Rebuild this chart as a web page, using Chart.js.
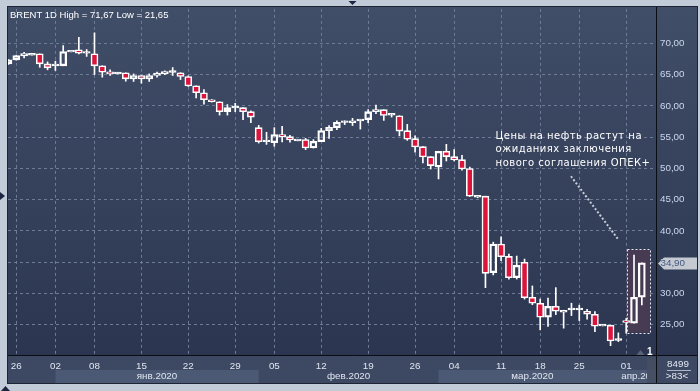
<!DOCTYPE html>
<html><head><meta charset="utf-8">
<script src="https://cdn.jsdelivr.net/npm/chart.js@4.4.1/dist/chart.umd.min.js"></script>
<style>html,body{margin:0;padding:0;background:#c2cbd8;overflow:hidden}canvas{display:block}</style>
</head><body>
<canvas id="c" width="700" height="391"></canvas>
<script>
// ---- data (BRENT daily, 83 visible slots; index = slot number) ----
const openV = [
 66.70,67.35,67.99,68.10,68.31,66.71,66.40,66.40,68.60,68.95,
 68.40,68.31,66.40,65.44,65.10,65.28,64.32,64.85,64.32,64.85,
 65.12,65.35,65.28,64.69,63.20,62.09,60.97,60.65,59.06,59.65,
 59.70,59.06,56.51,54.25,54.11,55.39,55.07,54.40,54.60,53.25,
 54.27,56.03,56.51,57.33,57.30,57.60,57.78,59.06,59.38,58.50,
 58.42,56.03,54.75,53.47,51.88,50.22,52.73,51.88,51.40,49.97,
 45.40,45.55,33.32,37.90,35.93,32.52,34.98,29.39,28.44,26.20,
 27.96,27.00,27.38,27.38,27.16,26.68,24.80,24.93,22.50,25.66,
 25.25,29.39];
const highV = [
 67.40,68.10,68.56,68.30,68.31,67.03,67.13,69.63,68.80,70.96,
 69.00,71.67,66.40,65.77,65.30,65.28,65.10,64.85,65.10,65.40,
 65.60,66.12,65.30,64.80,63.20,62.60,61.00,60.65,60.20,60.40,
 59.70,59.20,56.87,55.76,56.51,56.71,55.30,54.60,54.80,54.60,
 56.40,56.83,57.60,57.60,58.00,57.80,59.40,60.11,59.38,58.80,
 58.42,57.03,55.20,53.47,51.88,52.73,53.84,53.00,52.10,50.20,
 45.60,45.55,38.20,39.06,36.30,35.98,35.50,31.20,29.10,29.28,
 30.93,27.32,28.44,28.12,27.47,27.10,25.00,24.93,23.70,26.00,
 36.14,34.90];
const lowV = [
 66.60,67.30,67.67,68.10,66.17,65.76,65.65,66.40,68.60,68.30,
 67.90,65.00,64.58,64.85,65.10,63.94,63.90,63.62,63.90,64.60,
 65.00,64.85,64.20,63.10,61.25,60.25,60.60,58.52,58.52,59.06,
 57.78,57.30,54.05,53.84,53.52,54.21,54.20,54.40,53.00,53.25,
 54.27,54.80,56.20,57.00,56.85,56.28,57.30,58.74,57.67,58.20,
 55.20,54.48,52.60,50.86,49.90,48.31,51.18,51.20,49.70,45.50,
 45.30,30.93,32.96,35.23,32.30,32.30,29.10,28.20,24.18,24.71,
 26.62,24.45,26.46,25.66,25.88,23.90,24.80,21.65,22.31,23.65,
 25.25,28.16];
const closeV = [
 67.35,68.04,68.36,68.30,66.71,66.08,66.65,68.68,68.80,68.41,
 68.45,66.40,65.37,65.12,65.30,64.32,64.85,64.32,64.85,65.22,
 65.49,65.45,64.69,63.17,62.10,60.97,60.65,59.06,59.70,59.72,
 59.06,58.20,54.27,54.40,55.39,55.07,54.53,54.60,53.25,54.32,
 56.03,56.56,57.35,57.38,57.62,57.80,59.06,59.38,58.45,58.55,
 55.96,54.67,53.41,51.82,50.44,52.73,51.88,51.34,49.90,45.55,
 45.60,33.22,37.90,35.87,32.52,34.50,29.33,28.44,26.20,27.96,
 27.16,27.32,27.45,27.45,26.68,24.77,25.00,22.40,22.55,25.35,
 29.39,34.90];

const tickIdx    = [2,7,12,18,24,30,35,41,47,53,58,64,69,74,80];
const tickLabels = ['26','02','08','15','22','29','05','12','19','26','04','11','18','25','01'];
const monthStart = [7,33,56,80];
const monthLabels = ['янв.2020','фев.2020','мар.2020','апр.2020'];
const monthShade = [true,false,true,true];
const yTicks = [25,30,35,40,45,50,55,60,65,70];
const lastPrice = 34.90;
const titleText = 'BRENT 1D High = 71,67 Low = 21,65';
const noteLines = ['Цены на нефть растут на','ожиданиях заключения','нового соглашения ОПЕК+'];
const barsCount = '8499';
const visibleBars = '>83<';

// ---- build datasets ----
const bodies = [], upW = [], loW = [], bodyCol = [];
openV.forEach((o, i) => {
  const c = closeV[i], k = i + 1;
  const top = Math.max(o, c), bot = Math.min(o, c);
  bodies.push({x: k, y: [o, c]});
  upW.push({x: k, y: [top, highV[i]]});
  loW.push({x: k, y: [lowV[i], bot]});
  bodyCol.push(c < o ? '#dc143c' : 'rgba(0,0,0,0)');
});

const fmt = v => v.toFixed(2).replace('.', ',');
const FONT = 'Liberation Sans, Arial, sans-serif';

const deco = {
  id: 'deco',
  beforeDraw(chart) {
    const {ctx, chartArea: a, scales: {x}} = chart;
    const L = 8, T = 7, R = 697, B = 383;
    ctx.save();
    ctx.fillStyle = '#c2cbd8'; ctx.fillRect(0, 0, chart.width, chart.height);
    const g = ctx.createLinearGradient(0, T, 0, a.bottom);
    g.addColorStop(0, '#414e68'); g.addColorStop(1, '#2b3550');
    ctx.fillStyle = g; ctx.fillRect(L, T, R - L, a.bottom - T);
    ctx.fillStyle = '#3d4862'; ctx.fillRect(L, a.bottom, R - L, B - a.bottom);
    // month bands
    const rowTop = 370;
    monthStart.forEach((m, i) => {
      if (!monthShade[i]) return;
      const x0 = Math.max(x.getPixelForValue(m), a.left);
      const x1 = i + 1 < monthStart.length ? x.getPixelForValue(monthStart[i + 1]) : a.right;
      ctx.fillStyle = '#4c5974';
      ctx.fillRect(x0, rowTop, x1 - x0, B - rowTop);
    });
    ctx.restore();
  },
  beforeDatasetsDraw(chart) {
    const {ctx, scales: {x, y}} = chart;
    ctx.save();
    const x0 = x.getPixelForValue(80.05), x1 = x.getPixelForValue(83.05);
    const y0 = y.getPixelForValue(37.05), y1 = y.getPixelForValue(23.75);
    ctx.fillStyle = '#463b53';
    ctx.fillRect(x0, y0, x1 - x0, y1 - y0);
    ctx.restore();
  },
  afterDatasetsDraw(chart) {
    const {ctx, scales: {x, y}} = chart;
    ctx.save();
    const x0 = Math.round(x.getPixelForValue(80.05)) + 0.5, x1 = Math.round(x.getPixelForValue(83.05)) + 0.5;
    const y0 = Math.round(y.getPixelForValue(37.05)) + 0.5, y1 = Math.round(y.getPixelForValue(23.75)) + 0.5;
    ctx.strokeStyle = '#e8e8f0'; ctx.lineWidth = 1; ctx.setLineDash([2, 2]);
    ctx.strokeRect(x0, y0, x1 - x0, y1 - y0);
    ctx.strokeStyle = 'rgba(215,220,230,0.9)'; ctx.lineWidth = 2; ctx.setLineDash([2, 2]);
    ctx.beginPath();
    ctx.moveTo(x.getPixelForValue(72.94), y.getPixelForValue(48.74));
    ctx.lineTo(x.getPixelForValue(78.98), y.getPixelForValue(38.64));
    ctx.stroke();
    ctx.setLineDash([]);
    ctx.fillStyle = '#ffffff';
    ctx.font = '10px "DejaVu Sans", sans-serif';
    try { ctx.letterSpacing = '0.5px'; } catch (e) {}
    ctx.textBaseline = 'alphabetic'; ctx.textAlign = 'left';
    const nx = x.getPixelForValue(63.3), ny = y.getPixelForValue(54.75);
    noteLines.forEach((t, i) => ctx.fillText(t, nx, ny + i * 13.5));
    try { ctx.letterSpacing = '0px'; } catch (e) {}
    ctx.restore();
  },
  afterDraw(chart) {
    const {ctx, chartArea: a, scales: {x, y}} = chart;
    const L = 8, T = 7, R = 697, B = 383;
    ctx.save();
    ctx.save();
    ctx.beginPath(); ctx.rect(a.left, 370, a.right - a.left - 9, B - 370); ctx.clip();
    ctx.fillStyle = '#dfe6f0'; ctx.font = '9.8px ' + FONT;
    ctx.textAlign = 'center'; ctx.textBaseline = 'alphabetic';
    monthStart.forEach((m, i) => {
      const x0 = Math.max(x.getPixelForValue(m), a.left);
      const x1 = i + 1 < monthStart.length ? x.getPixelForValue(monthStart[i + 1]) : a.right;
      ctx.fillText(monthLabels[i], (x0 + x1) / 2, 378.5);
    });
    ctx.restore();
    ctx.fillStyle = 'rgba(70,78,98,0.9)';
    ctx.fillRect(647, 358, 9, B - 358);
    ctx.fillStyle = '#5b6477';
    ctx.beginPath(); ctx.moveTo(636.5, 355); ctx.lineTo(640.5, 350); ctx.lineTo(644.5, 355); ctx.closePath(); ctx.fill();
    ctx.fillStyle = '#ffffff'; ctx.font = 'bold 10px ' + FONT; ctx.textAlign = 'left';
    ctx.fillText('1', 647, 355);
    ctx.strokeStyle = '#0a0d14'; ctx.lineWidth = 1;
    ctx.beginPath();
    ctx.moveTo(L, a.bottom - 0.5); ctx.lineTo(R, a.bottom - 0.5);
    ctx.moveTo(a.right - 0.5, T); ctx.lineTo(a.right - 0.5, B);
    ctx.stroke();
    ctx.strokeStyle = '#1d2433';
    ctx.strokeRect(L - 0.5, T - 0.5, R - L + 1, B - T + 1);
    ctx.fillStyle = '#ffffff'; ctx.font = '9.5px ' + FONT; ctx.textAlign = 'left';
    ctx.fillText(titleText, 10, 18.3);
    const py = Math.round(y.getPixelForValue(lastPrice)) + 0.5;
    ctx.fillStyle = '#c4c9d2';
    ctx.beginPath();
    ctx.moveTo(658, py); ctx.lineTo(664, py - 6); ctx.lineTo(697, py - 6); ctx.lineTo(697, py + 6); ctx.lineTo(664, py + 6);
    ctx.closePath(); ctx.fill();
    ctx.fillStyle = '#44597f'; ctx.font = '9.8px ' + FONT; ctx.textBaseline = 'middle';
    ctx.fillText(fmt(lastPrice), 660.5, py);
    ctx.fillStyle = '#e2e8f2'; ctx.textAlign = 'center'; ctx.textBaseline = 'alphabetic';
    ctx.fillText(barsCount, 678, 366.5);
    ctx.fillText(visibleBars, 677, 378.5);
    ctx.strokeStyle = '#aeb7c8'; ctx.beginPath(); ctx.moveTo(667, 370.5); ctx.lineTo(691, 370.5); ctx.stroke();
    ctx.fillStyle = '#1b2540';
    ctx.beginPath(); ctx.moveTo(348.5, 1); ctx.lineTo(356.5, 1); ctx.lineTo(352.5, 5); ctx.closePath(); ctx.fill();
    ctx.beginPath(); ctx.moveTo(0, 192); ctx.lineTo(5, 196); ctx.lineTo(0, 200); ctx.closePath(); ctx.fill();
    ctx.beginPath(); ctx.moveTo(1, 391); ctx.lineTo(5.5, 386); ctx.lineTo(10, 391); ctx.closePath(); ctx.fill();
    ctx.restore();
  }
};

const gridColor = '#6d7b96';
new Chart(document.getElementById('c'), {
  type: 'bar',
  data: {
    datasets: [
      {data: bodies, backgroundColor: bodyCol, borderColor: '#ffffff', borderWidth: 1.6,
       borderSkipped: false, barThickness: 7, minBarLength: 1.8, grouped: false, order: 0},
      {data: upW, backgroundColor: '#ffffff', borderWidth: 0, barThickness: 1, grouped: false, order: 1},
      {data: loW, backgroundColor: '#ffffff', borderWidth: 0, barThickness: 1, grouped: false, order: 1}
    ]
  },
  options: {
    responsive: false, animation: false, devicePixelRatio: 1,
    layout: {padding: {left: 8, top: 8, right: 3, bottom: 8}},
    plugins: {legend: {display: false}, tooltip: {enabled: false}},
    scales: {
      x: {
        type: 'linear', min: 0.94, max: 83.94, offset: false,
        grid: {color: gridColor, lineWidth: 1, drawTicks: false, offset: false},
        border: {display: false, dash: [3, 3]},
        afterBuildTicks(s) { s.ticks = tickIdx.map(v => ({value: v})); },
        afterFit(s) { s.height = 27; },
        ticks: {
          autoSkip: false, maxRotation: 0, padding: 4, color: '#dfe6f0',
          font: {family: FONT, size: 9.8},
          callback: v => { const i = tickIdx.indexOf(v); return i >= 0 ? tickLabels[i] : ''; }
        }
      },
      y: {
        position: 'right', min: 20, max: 75.5, beginAtZero: false,
        grid: {color: gridColor, lineWidth: 1, drawTicks: false},
        border: {display: false, dash: [3, 3]},
        afterBuildTicks(s) { s.ticks = yTicks.map(v => ({value: v})); },
        afterFit(s) { s.width = 40; },
        ticks: {padding: 3, color: '#cbd7ec', font: {family: FONT, size: 9.8}, callback: v => fmt(v)}
      }
    }
  },
  plugins: [deco]
});
</script>
</body></html>
